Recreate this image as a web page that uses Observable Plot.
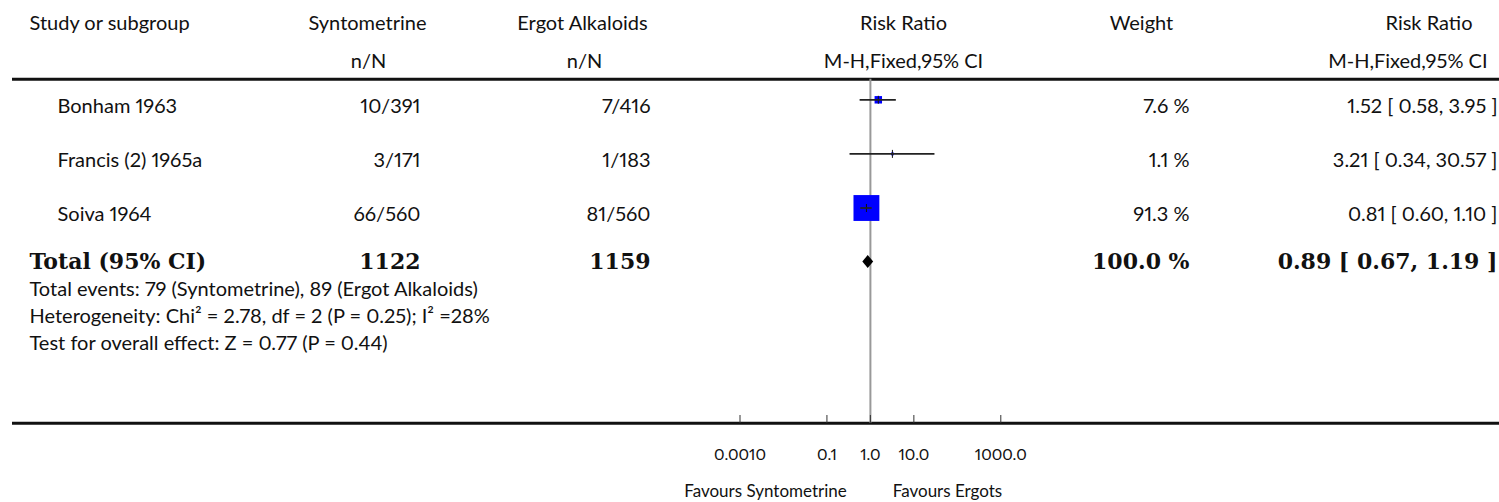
<!DOCTYPE html>
<html>
<head>
<meta charset="utf-8">
<script src="https://cdn.jsdelivr.net/npm/d3@7"></script>
<script src="https://cdn.jsdelivr.net/npm/@observablehq/plot@0.6"></script>
<style>
  html, body { margin: 0; padding: 0; background: #fff; }
  #chart svg { display: block; }
  #chart text { font-variant-numeric: proportional-nums; }
</style>
</head>
<body>
<div id="chart"></div>
<script>
// ---------------- data ----------------
const studies = ["Bonham 1963", "Francis (2) 1965a", "Soiva 1964"];
const syntoNN = ["10/391", "3/171", "66/560"];
const ergotNN = ["7/416", "1/183", "81/560"];
const riskRatio = [1.52, 3.21, 0.81];
const ciLow = [0.58, 0.34, 0.60];
const ciHigh = [3.95, 30.57, 1.10];
const weightPct = [7.6, 1.1, 91.3];
const weightText = ["7.6 %", "1.1 %", "91.3 %"];
const ciText = ["1.52 [ 0.58, 3.95 ]", "3.21 [ 0.34, 30.57 ]", "0.81 [ 0.60, 1.10 ]"];

const totalLabel = "Total (95% CI)";
const totalN = ["1122", "1159"];
const totalEstimate = [0.89, 0.67, 1.19]; // RR, low, high
const totalWeightText = "100.0 %";
const totalCIText = "0.89 [ 0.67, 1.19 ]";

const headerTop = ["Study or subgroup", "Syntometrine", "Ergot Alkaloids", "Risk Ratio", "Weight", "Risk Ratio"];
const headerSub = ["n/N", "n/N", "M-H,Fixed,95% CI", "M-H,Fixed,95% CI"];
const notes = [
  "Total events: 79 (Syntometrine), 89 (Ergot Alkaloids)",
  "Heterogeneity: Chi\u00B2 = 2.78, df = 2 (P = 0.25); I\u00B2 =28%",
  "Test for overall effect: Z = 0.77 (P = 0.44)"
];
const tickValues = [0.001, 0.1, 1, 10, 1000];
const tickLabels = ["0.0010", "0.1", "1.0", "10.0", "1000.0"];
const favours = ["Favours Syntometrine", "Favours Ergots"];

// ---------------- layout ----------------
const SANS = "Lato, 'Noto Sans', sans-serif";
const SERIF = "'DejaVu Serif', 'Liberation Serif', serif";
const FS = 20;
const TFS = 22;
const INK = "#111";

const table = studies.map((study, i) => ({
  study, row: i + 1, synto: syntoNN[i], ergot: ergotNN[i],
  rr: riskRatio[i], lo: ciLow[i], hi: ciHigh[i],
  weight: weightPct[i], weightText: weightText[i], ciText: ciText[i]
}));
const TOTAL_ROW = studies.length + 1;
const HEAD1 = -0.40, HEAD2 = 0.285, HEAD_LINE = 0.62, AXIS_ROW = 6.98, FAVOURS_ROW = 8.25;
const noteRows = notes.map((n, i) => ({text: n, row: TOTAL_ROW + 0.5 * (i + 1)}));
const diamondHalf = 0.12;
const diamond = [
  {x: totalEstimate[1], y1: TOTAL_ROW, y2: TOTAL_ROW},
  {x: totalEstimate[0], y1: TOTAL_ROW - diamondHalf, y2: TOTAL_ROW + diamondHalf},
  {x: totalEstimate[2], y1: TOTAL_ROW, y2: TOTAL_ROW}
];

const vbar = {draw(ctx, size) { const h = Math.sqrt(size / Math.PI); ctx.moveTo(0, -h); ctx.lineTo(0, h); }};

const txt = (data, opts) => Plot.text(data, {frameAnchor: "left", fontFamily: SANS, fontSize: FS, fill: INK, ...opts});
const bold = (data, opts) => txt(data, {fontFamily: SERIF, fontWeight: "bold", fontSize: TFS, ...opts});
const one = (s) => [s];

const chart = Plot.plot({
  width: 1499,
  height: 502,
  marginLeft: 0,
  marginRight: 0,
  marginTop: 79,
  marginBottom: 79,
  style: {background: "#fff", overflow: "visible"},
  x: {type: "log", domain: [0.001, 1000], range: [739.5, 1000.3]},
  y: {domain: [0, 1], range: [45.2, 99.3], axis: null},
  r: {type: "sqrt", domain: [0, 91.3], range: [0, 14.6]},
  marks: [
    // structural lines
    Plot.ruleY([HEAD_LINE], {insetLeft: 12, stroke: INK, strokeWidth: 3}),
    Plot.ruleY([AXIS_ROW], {insetLeft: 12, stroke: INK, strokeWidth: 3}),
    Plot.ruleX([1], {y1: HEAD_LINE, y2: AXIS_ROW, stroke: "#999", strokeWidth: 2}),
    Plot.axisX(tickValues, {
      anchor: "bottom", tickSize: -8, tickPadding: 33,
      tickFormat: (d) => tickLabels[tickValues.indexOf(d)],
      fontFamily: SANS, fontSize: 16, fill: INK, stroke: "#333"
    }),
    // study markers
    Plot.dot(table, {x: "rr", y: "row", r: "weight", symbol: "square", fill: "#0000ff"}),
    Plot.dot(table, {x: "rr", y: "row", r: 4, symbol: vbar, stroke: INK, strokeWidth: 1, fill: "none"}),
    Plot.ruleY(table, {y: "row", x1: "lo", x2: "hi", stroke: "#222", strokeWidth: 1.7}),
    Plot.areaY(diamond, {x: "x", y1: "y1", y2: "y2", fill: "#000"}),

    // header row 1
    txt(one(headerTop[0]), {y: HEAD1, text: d => d, dx: 29, textAnchor: "start"}),
    txt(one(headerTop[1]), {y: HEAD1, text: d => d, dx: 367, textAnchor: "middle"}),
    txt(one(headerTop[2]), {y: HEAD1, text: d => d, dx: 582, textAnchor: "middle"}),
    txt(one(headerTop[3]), {y: HEAD1, text: d => d, dx: 903, textAnchor: "middle"}),
    txt(one(headerTop[4]), {y: HEAD1, text: d => d, dx: 1141, textAnchor: "middle"}),
    txt(one(headerTop[5]), {y: HEAD1, text: d => d, dx: 1472, textAnchor: "end"}),
    // header row 2
    txt(one(headerSub[0]), {y: HEAD2, text: d => d, dx: 368, textAnchor: "middle"}),
    txt(one(headerSub[1]), {y: HEAD2, text: d => d, dx: 584, textAnchor: "middle"}),
    txt(one(headerSub[2]), {y: HEAD2, text: d => d, dx: 903, textAnchor: "middle"}),
    txt(one(headerSub[3]), {y: HEAD2, text: d => d, dx: 1487, textAnchor: "end"}),

    // study rows
    txt(table, {y: "row", text: "study", dx: 57, dy: 7, textAnchor: "start"}),
    txt(table, {y: "row", text: "synto", dx: 420, dy: 7, textAnchor: "end"}),
    txt(table, {y: "row", text: "ergot", dx: 650, dy: 7, textAnchor: "end"}),
    txt(table, {y: "row", text: "weightText", dx: 1189, dy: 7, textAnchor: "end"}),
    txt(table, {y: "row", text: "ciText", dx: 1497, dy: 7, textAnchor: "end"}),

    // total row
    bold(one(totalLabel), {y: TOTAL_ROW, text: d => d, dx: 29, textAnchor: "start"}),
    bold(one(totalN[0]), {y: TOTAL_ROW, text: d => d, dx: 420, textAnchor: "end"}),
    bold(one(totalN[1]), {y: TOTAL_ROW, text: d => d, dx: 650, textAnchor: "end"}),
    bold(one(totalWeightText), {y: TOTAL_ROW, text: d => d, dx: 1189, textAnchor: "end"}),
    bold(one(totalCIText), {y: TOTAL_ROW, text: d => d, dx: 1497, textAnchor: "end"}),

    // notes
    txt(noteRows, {y: "row", text: "text", dx: 29, textAnchor: "start", fontSize: 20}),

    // favours labels
    txt(one(favours[0]), {y: FAVOURS_ROW, text: d => d, dx: 765, textAnchor: "middle", fontSize: 17}),
    txt(one(favours[1]), {y: FAVOURS_ROW, text: d => d, dx: 947, textAnchor: "middle", fontSize: 17})
  ]
});

document.getElementById("chart").appendChild(chart);
</script>
</body>
</html>
